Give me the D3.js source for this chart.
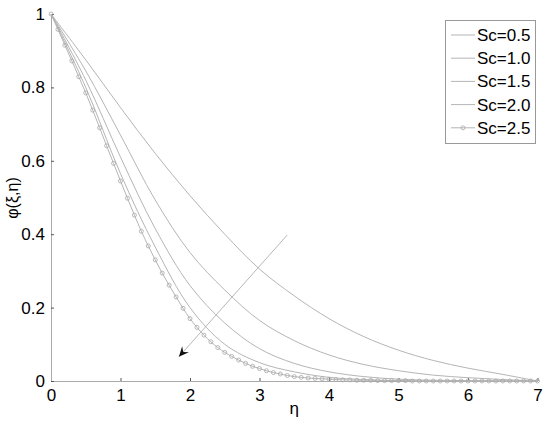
<!DOCTYPE html>
<html><head><meta charset="utf-8">
<script src="https://cdn.jsdelivr.net/npm/d3@7"></script>
<style>body{margin:0;background:#fff}svg{display:block}text{font-family:"Liberation Sans",Arial,sans-serif}</style>
</head><body><svg id="c" width="550" height="433"></svg>
<script>
const etaCoarse = [0,0.5,1,1.5,2,2.5,3,3.5,4,4.5,5,5.5,6,6.5,7];
const sc05 = [1,0.875,0.745,0.62,0.505,0.40,0.305,0.232,0.170,0.121,0.084,0.056,0.035,0.018,0];
const sc10 = [1,0.845,0.67,0.493,0.35,0.248,0.165,0.110,0.071,0.045,0.028,0.016,0.009,0.004,0];
const sc15 = [1,0.82,0.61,0.415,0.26,0.158,0.088,0.048,0.025,0.012,0.005,0.002,0.001,0,0];
const sc20 = [1,0.80,0.565,0.365,0.20,0.10,0.05,0.025,0.010,0.004,0.001,0,0,0,0];
const etaFine = d3.range(71).map(i => i/10);
const sc25 = [1,0.958,0.915,0.872,0.829,0.785,0.738,0.690,0.641,0.593,
  0.545,0.498,0.452,0.408,0.368,0.330,0.294,0.261,0.229,0.198,
  0.170,0.146,0.125,0.107,0.091,0.078,0.067,0.057,0.048,0.040,
  0.034,0.028,0.023,0.019,0.015,0.012,0.010,0.008,0.007,0.006,
  0.005,0.004,0.003,0.003,0.002,0.002,0.002,0.001,0.001,0.001,
  0.001,0.001,0,0,0,0,0,0,0,0,
  0,0,0,0,0,0,0,0,0,0,0];
const legendLabels = ["Sc=0.5","Sc=1.0","Sc=1.5","Sc=2.0","Sc=2.5"];
const xTicks = [0,1,2,3,4,5,6,7];
const yTicks = [0,0.2,0.4,0.6,0.8,1];
const arrowFrom = [3.40,0.398], arrowTo = [1.84,0.066];

const svg = d3.select("#c");
const x = d3.scaleLinear().domain([0,7]).range([51,537.5]);
const y = d3.scaleLinear().domain([0,1]).range([381,14]);
const lineCol = "#b5b5b5";

// axes
const xAx = svg.append("g").attr("transform","translate(0,381)")
  .call(d3.axisBottom(x).tickValues(xTicks).tickFormat(d3.format("d")).tickSizeInner(-3).tickSizeOuter(0).tickPadding(8));
const yAx = svg.append("g").attr("transform","translate(51,0)")
  .call(d3.axisLeft(y).tickValues(yTicks).tickFormat(d => d===0?"0":d===1?"1":d3.format(".1f")(d)).tickSizeInner(-3).tickSizeOuter(0).tickPadding(6));
[xAx,yAx].forEach(g=>{
  g.select(".domain").attr("stroke","#aaa");
  g.selectAll(".tick line").attr("stroke","#555");
  g.selectAll(".tick text").attr("font-size",17).attr("fill","#000").attr("font-family",'"Liberation Sans",Arial,sans-serif');
});

// curves
const series = [sc05,sc10,sc15,sc20];
const ln = d3.line().x(d=>x(d[0])).y(d=>y(d[1])).curve(d3.curveCatmullRom.alpha(0.5));
series.forEach(s=>{
  svg.append("path").attr("d",ln(etaCoarse.map((e,i)=>[e,s[i]])))
    .attr("fill","none").attr("stroke",lineCol).attr("stroke-width",1);
});
const fine = etaFine.map((e,i)=>[e,sc25[i]]);
svg.append("path").attr("d",ln(fine)).attr("fill","none").attr("stroke",lineCol).attr("stroke-width",1);
svg.selectAll("circle.m").data(fine).enter().append("circle").attr("class","m")
  .attr("cx",d=>x(d[0])).attr("cy",d=>y(d[1])).attr("r",2)
  .attr("fill","none").attr("stroke","#a8a8a8").attr("stroke-width",0.8);

// arrow
const x1=x(arrowFrom[0]), y1=y(arrowFrom[1]), x2=x(arrowTo[0]), y2=y(arrowTo[1]);
svg.append("line").attr("x1",x1).attr("y1",y1).attr("x2",x2).attr("y2",y2).attr("stroke","#b8b8b8").attr("stroke-width",1);
const ang = Math.atan2(y2-y1,x2-x1);
const L=10, W=4.5;
const bx = x2 - L*Math.cos(ang), by = y2 - L*Math.sin(ang);
const mx = x2 - 0.65*L*Math.cos(ang), my = y2 - 0.65*L*Math.sin(ang);
const px = -Math.sin(ang), py = Math.cos(ang);
svg.append("path").attr("d",`M${x2},${y2}L${bx+W*px},${by+W*py}L${mx},${my}L${bx-W*px},${by-W*py}Z`).attr("fill","#111");

// axis labels
svg.append("text").attr("x",x(3.5)).attr("y",414).attr("text-anchor","middle").attr("font-size",17).text("η");
svg.append("text").attr("transform","translate(18,198) rotate(-90)").attr("text-anchor","middle").attr("font-size",16).text("φ(ξ,η)");

// legend
const lg = svg.append("g");
lg.append("rect").attr("x",445.5).attr("y",20.5).attr("width",90).attr("height",123).attr("fill","#fff").attr("stroke","#999").attr("stroke-width",1);
legendLabels.forEach((t,i)=>{
  const cy = 35 + i*23.2;
  lg.append("line").attr("x1",451).attr("x2",475).attr("y1",cy).attr("y2",cy).attr("stroke",lineCol);
  if(i===4) lg.append("circle").attr("cx",463).attr("cy",cy).attr("r",2).attr("fill","none").attr("stroke","#a8a8a8").attr("stroke-width",0.8);
  lg.append("text").attr("x",477).attr("y",cy+6).attr("font-size",17).text(t);
});
</script></body></html>
